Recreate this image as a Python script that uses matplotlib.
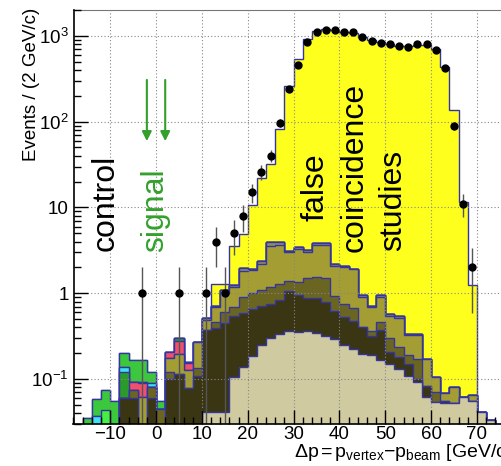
import numpy as np
import matplotlib
matplotlib.use('Agg')
import matplotlib.pyplot as plt
from matplotlib.ticker import FixedLocator, MultipleLocator, NullFormatter

plt.rcParams['font.family'] = ['Liberation Sans', 'DejaVu Sans']
plt.rcParams['mathtext.fontset'] = 'custom'
plt.rcParams['mathtext.rm'] = 'Liberation Sans'
plt.rcParams['mathtext.it'] = 'Liberation Sans:italic'
plt.rcParams['mathtext.default'] = 'regular'

# 2 GeV/c bins from -18 to 76
edges = np.arange(-18, 78, 2)

# background components, one value per bin (bin centres -17, -15, ..., 75)
beige = [0] * 14 + [.041, .041, .041, .105, .138, .184, .247, .304, .338, .363, .354,
                    .363, .344, .315, .296, .247, .226, .198, .190, .168, .151, .132,
                    .110, .092, .062, .054, .052, .052, .062, .056, .041, .033, 0]
dark = [0, 0, 0, 0, 0, .06, .06, 0, .06, 0, .099, .116, .078, .108,
        .329, .349, .409, .445, .452, .476, .473, .456, .492, .697, .596,
        .527, .526, .485, .334, .283, .254, .202, .13, .202, .055, .048,
        .04, .008, .022, 0, .004, 0, 0, 0, 0, 0, 0]
olive = [0, 0, 0, 0, 0, 0, .015, 0, .02, .045, .022, 0, 0, .028,
         0, .07, .15, .15, .31, .34, .38, .44, .47, .34, .40,
         .61, .68, .70, .29, .23, .20, 0, .04, .09, .094, .056,
         .04, .07, 0, .016, 0, 0, 0, 0, 0, 0, 0]
light = [0, 0, 0, 0, 0, 0, 0, .062, 0, 0, .055, .078, .05, .137,
         .12, .24, .40, .48, .90, .85, 1.1, 2.4, 2.4, 1.6, 1.95,
         1.55, 2.15, 2.2, 1.18, 1.24, 1.22, .50, .34, .44, .25, .284,
         .14, .16, .086, .035, .012, .028, 0, .009, 0, 0, 0]
grey = [0] * 14 + [.03, .02, .1, .07, .17, .09, .18, .37, .27, .12, .12,
                   .13, .16, .16, .1, .1, .04, .05, .02, .05, .03, .03,
                   .01, .01, .003] + [0] * 8
red = [0, 0, 0, 0, 0, 0, .017, .027, 0, 0, .03, .081, .026] + [0] * 34
dgreen = [0, 0, 0, 0, 0, .06, 0, 0, 0, 0, 0, .025] + [0] * 35
cyan = [0, 0, .037, 0, 0, .018, 0, .004, .01, 0, 0, 0, .004] + [0] * 34
lgreen = [0, 0, 0, .044] + [0] * 43
green = [0, .035, .021, .031, .056, .062, .073, .072, .03, .01] + [0] * 37
yellow = [0] * 15 + [.58, .17, 2.35, 2.93, 8.66, 19.4, 28.0, 78, 258, 532,
                     912, 1126, 1186, 1178, 1118, 1078, 979, 899, 839, 799, 769,
                     760, 790, 790, 700, 438, 137, 11.5, 1.18, 0, 0, 0]

# data
data_x = [-3, 5, 11, 13, 15, 17, 19, 21, 23, 25, 27, 29, 31, 33, 35, 37,
          39, 41, 43, 45, 47, 49, 51, 53, 55, 57, 59, 61, 63, 65, 67, 69]
data_n = [1, 1, 1, 4, 1, 5, 8, 15, 26, 40, 97, 242, 458, 849, 1110, 1181,
          1181, 1110, 1110, 979, 879, 833, 798, 757, 736, 798, 798, 684, 425, 89, 11, 2]

stack = [beige, dark, olive, light, grey, red, dgreen, cyan, lgreen, green, yellow]
colors = ['#cfcaa0', '#3a3512', '#6b6522', '#a39d33', '#8f8c6a', '#f0506a',
          '#2a9a2a', '#40e0f0', '#44f044', '#3cc83c', '#ffff1e']
outline = '#3535a0'

fig = plt.figure(figsize=(5.02, 4.66), dpi=100)
ax = fig.add_axes([73.5 / 502, 1 - 424 / 466, 431 / 502, 414 / 466])
ax.set_yscale('log')
ax.set_xlim(-18, 76)
ax.set_ylim(0.03, 2000)

floor = 1e-3
cum = np.cumsum(np.array(stack, dtype=float), axis=0)
for level, col in reversed(list(zip(cum, colors))):
    lvl = np.where(level > 0, level, floor)
    ax.stairs(lvl, edges, baseline=floor, fill=True, facecolor=col, edgecolor='none', zorder=2)
    ax.stairs(lvl, edges, baseline=floor, fill=False, color=outline, lw=1, zorder=2)

n = np.array(data_n, dtype=float)
err = np.sqrt(n)
ax.errorbar(data_x, n, yerr=[np.minimum(err, n - floor), err], fmt='o', color='black',
            ms=5, ecolor='#555555', elinewidth=1, capsize=0, zorder=4)

# signal window arrows
for xa in (-2, 2):
    ax.annotate('', xy=(xa, 55), xytext=(xa, 330),
                arrowprops=dict(arrowstyle='-|>', color='#33a02c', lw=1.5, mutation_scale=14),
                zorder=5)

ax.text(-10.9, 11.2, 'control', rotation=90, fontsize=23, ha='center', va='center', zorder=5)
ax.text(-0.2, 9.3, 'signal', rotation=90, fontsize=23, color='#33a02c', ha='center', va='center', zorder=5)
ax.text(34.7, 17.2, 'false', rotation=90, fontsize=23, ha='center', va='center', zorder=5)
ax.text(43.4, 29.6, 'coincidence', rotation=90, fontsize=23, ha='center', va='center', zorder=5)
ax.text(51.7, 12.2, 'studies', rotation=90, fontsize=23, ha='center', va='center', zorder=5)

# axes, ticks and grid
ax.xaxis.set_major_locator(MultipleLocator(10))
ax.xaxis.set_minor_locator(MultipleLocator(2))
ax.yaxis.set_major_locator(FixedLocator([0.1, 1, 10, 100, 1000]))
ax.set_yticklabels(['$10^{-1}$', '1', '10', '$10^{2}$', '$10^{3}$'])
ax.yaxis.set_minor_locator(FixedLocator([m * 10.0 ** e for e in range(-2, 4) for m in range(2, 10)]))
ax.yaxis.set_minor_formatter(NullFormatter())
ax.set_xticks([-10, 0, 10, 20, 30, 40, 50, 60, 70])
ax.set_xticklabels(['\u221210', '0', '10', '20', '30', '40', '50', '60', '70'])
ax.tick_params(which='both', direction='in', top=False, right=False, labelsize=13.5, zorder=6)
ax.tick_params(which='major', length=10, width=1)
ax.tick_params(which='minor', length=5, width=1)
ax.tick_params(axis='x', pad=1.5)
ax.grid(True, which='major', ls=(0, (1, 2)), color='#888888', lw=0.8, zorder=1)
ax.set_axisbelow(False)
for s in ('left', 'bottom'):
    ax.spines[s].set_linewidth(1.2)
    ax.spines[s].set_zorder(6)
ax.spines['top'].set_color('#777777')
ax.spines['right'].set_visible(False)

fig.text(32 / 502, 1 - 84 / 466, 'Events / (2 GeV/c)', rotation=90, fontsize=13.5,
         ha='center', va='center')
fig.text(294 / 502, 1 - 457 / 466,
         r'$\Delta$p$\,$=$\,$p$_{vertex}$$-$p$_{beam}$ [GeV/c]',
         fontsize=14, ha='left', va='baseline')

fig.savefig('out.png', dpi=100)
